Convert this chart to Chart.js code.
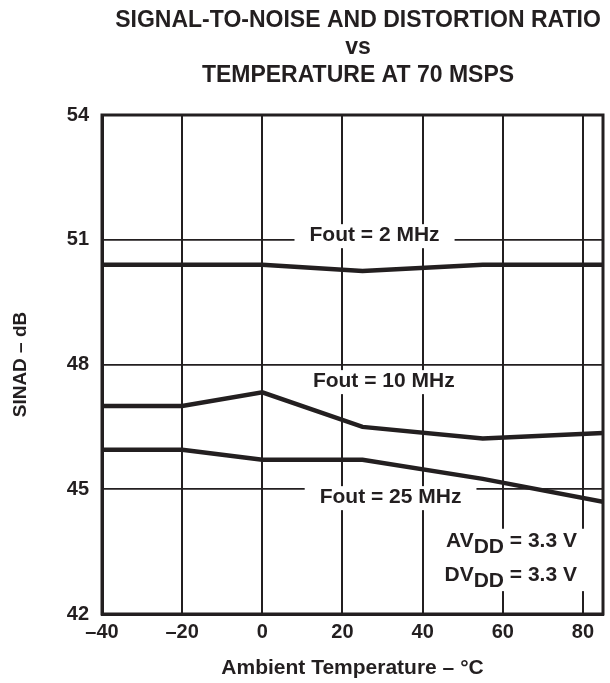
<!DOCTYPE html>
<html>
<head>
<meta charset="utf-8">
<script src="https://cdn.jsdelivr.net/npm/chart.js@4/dist/chart.umd.min.js"></script>
<style>
  html, body { margin: 0; padding: 0; background: #fff; }
  #wrap { width: 610px; height: 683px; position: relative; }
</style>
</head>
<body>
<div id="wrap"><canvas id="chart"></canvas></div>
<script>
// ---- data ----
const temps    = [-40, -20, 0, 25, 55, 85];
const sinad2   = [50.4, 50.4, 50.4, 50.25, 50.4, 50.4];
const sinad10  = [47.0, 47.0, 47.33, 46.5, 46.22, 46.35];
const sinad25  = [45.95, 45.95, 45.71, 45.71, 45.25, 44.7];

const xTicks = [-40, -20, 0, 20, 40, 60, 80];
const yTicks = [42, 45, 48, 51, 54];

const titleLines = ["SIGNAL-TO-NOISE AND DISTORTION RATIO", "vs", "TEMPERATURE AT 70 MSPS"];

// curve labels, anchored in data units
const curveLabels = [
  { text: "Fout = 2 MHz",  x: 28.0, y: 51.11 },
  { text: "Fout = 10 MHz", x: 30.3, y: 47.6 },
  { text: "Fout = 25 MHz", x: 32.0, y: 44.81 }
];

const INK = "#231f20";
const FONT = "'Liberation Sans', Arial, sans-serif";

const toPts = (ys) => temps.map((t, i) => ({ x: t, y: ys[i] }));
const lineStyle = { borderColor: INK, borderWidth: 4.5, pointRadius: 0, tension: 0, fill: false };

// ---- text overlay: title, curve labels, supply note, frame ----
const overlay = {
  id: "overlay",
  afterDatasetsDraw(chart) {
    const ctx = chart.ctx, xs = chart.scales.x, ys = chart.scales.y, a = chart.chartArea;
    ctx.save();
    ctx.fillStyle = INK;
    ctx.textBaseline = "middle";

    // curve labels on white patches
    ctx.font = "bold 21px " + FONT;
    ctx.textAlign = "center";
    curveLabels.forEach(l => {
      const px = xs.getPixelForValue(l.x), py = ys.getPixelForValue(l.y);
      const w = ctx.measureText(l.text).width + 30;
      ctx.fillStyle = "#fff";
      ctx.fillRect(px - w / 2, py - 11, w, 24);
      ctx.fillStyle = INK;
      ctx.fillText(l.text, px, py);
    });

    // supply voltage note, right aligned with subscripts
    const noteX = xs.getPixelForValue(78.5);
    const rows = [["AV", "DD", " = 3.3 V", 43.76], ["DV", "DD", " = 3.3 V", 42.94]];
    ctx.fillStyle = "#fff";
    ctx.fillRect(noteX - 140, ys.getPixelForValue(44.05), 150, ys.getPixelForValue(42.55) - ys.getPixelForValue(44.05));
    ctx.fillStyle = INK;
    ctx.textAlign = "left";
    rows.forEach(r => {
      const py = ys.getPixelForValue(r[3]);
      const w1 = ctx.measureText(r[0]).width, w2 = ctx.measureText(r[1]).width, w3 = ctx.measureText(r[2]).width;
      let x0 = noteX - (w1 + w2 + w3);
      ctx.fillText(r[0], x0, py);
      ctx.fillText(r[1], x0 + w1, py + 6);
      ctx.fillText(r[2], x0 + w1 + w2, py);
    });

    // heavy frame
    ctx.strokeStyle = INK;
    ctx.lineWidth = 3;
    ctx.strokeRect(a.left, a.top, a.right - a.left, a.bottom - a.top);

    // title
    ctx.textAlign = "center";
    ctx.font = "bold 23px " + FONT;
    titleLines.forEach((t, i) => ctx.fillText(t, 358, 20.5 + i * 27.5));
    ctx.restore();
  }
};

new Chart(document.getElementById("chart"), {
  type: "line",
  data: {
    datasets: [
      Object.assign({ label: "Fout = 2 MHz",  data: toPts(sinad2) },  lineStyle),
      Object.assign({ label: "Fout = 10 MHz", data: toPts(sinad10) }, lineStyle),
      Object.assign({ label: "Fout = 25 MHz", data: toPts(sinad25) }, lineStyle)
    ]
  },
  options: {
    responsive: true,
    maintainAspectRatio: false,
    animation: false,
    layout: { padding: { top: 115, right: 7, left: 0, bottom: 0 } },
    plugins: { legend: { display: false }, title: { display: false }, tooltip: { enabled: false } },
    scales: {
      x: {
        type: "linear", min: -40, max: 85,
        afterFit: s => { s.height = 69; },
        afterBuildTicks: s => { s.ticks = xTicks.map(v => ({ value: v })); },
        grid: { color: INK, lineWidth: 2, drawTicks: false },
        border: { color: INK, width: 3 },
        ticks: {
          color: INK, padding: 6, font: { family: FONT, size: 20, weight: "bold" },
          callback: v => String(v).replace("-", "\u2013")
        },
        title: {
          display: true, text: "Ambient Temperature \u2013 \u00B0C", color: INK,
          font: { family: FONT, size: 21, weight: "bold" }, padding: { top: 0, bottom: 2 }
        }
      },
      y: {
        type: "linear", min: 42, max: 54,
        afterFit: s => { s.width = 102; },
        afterBuildTicks: s => { s.ticks = yTicks.map(v => ({ value: v })); },
        grid: { color: INK, lineWidth: 1.8, drawTicks: false },
        border: { color: INK, width: 3 },
        ticks: { color: INK, padding: 13, font: { family: FONT, size: 20, weight: "bold" } },
        title: {
          display: true, text: "SINAD \u2013 dB", color: INK,
          font: { family: FONT, size: 19, weight: "bold" }, padding: { top: 9, bottom: 0 }
        }
      }
    }
  },
  plugins: [overlay]
});
</script>
</body>
</html>
